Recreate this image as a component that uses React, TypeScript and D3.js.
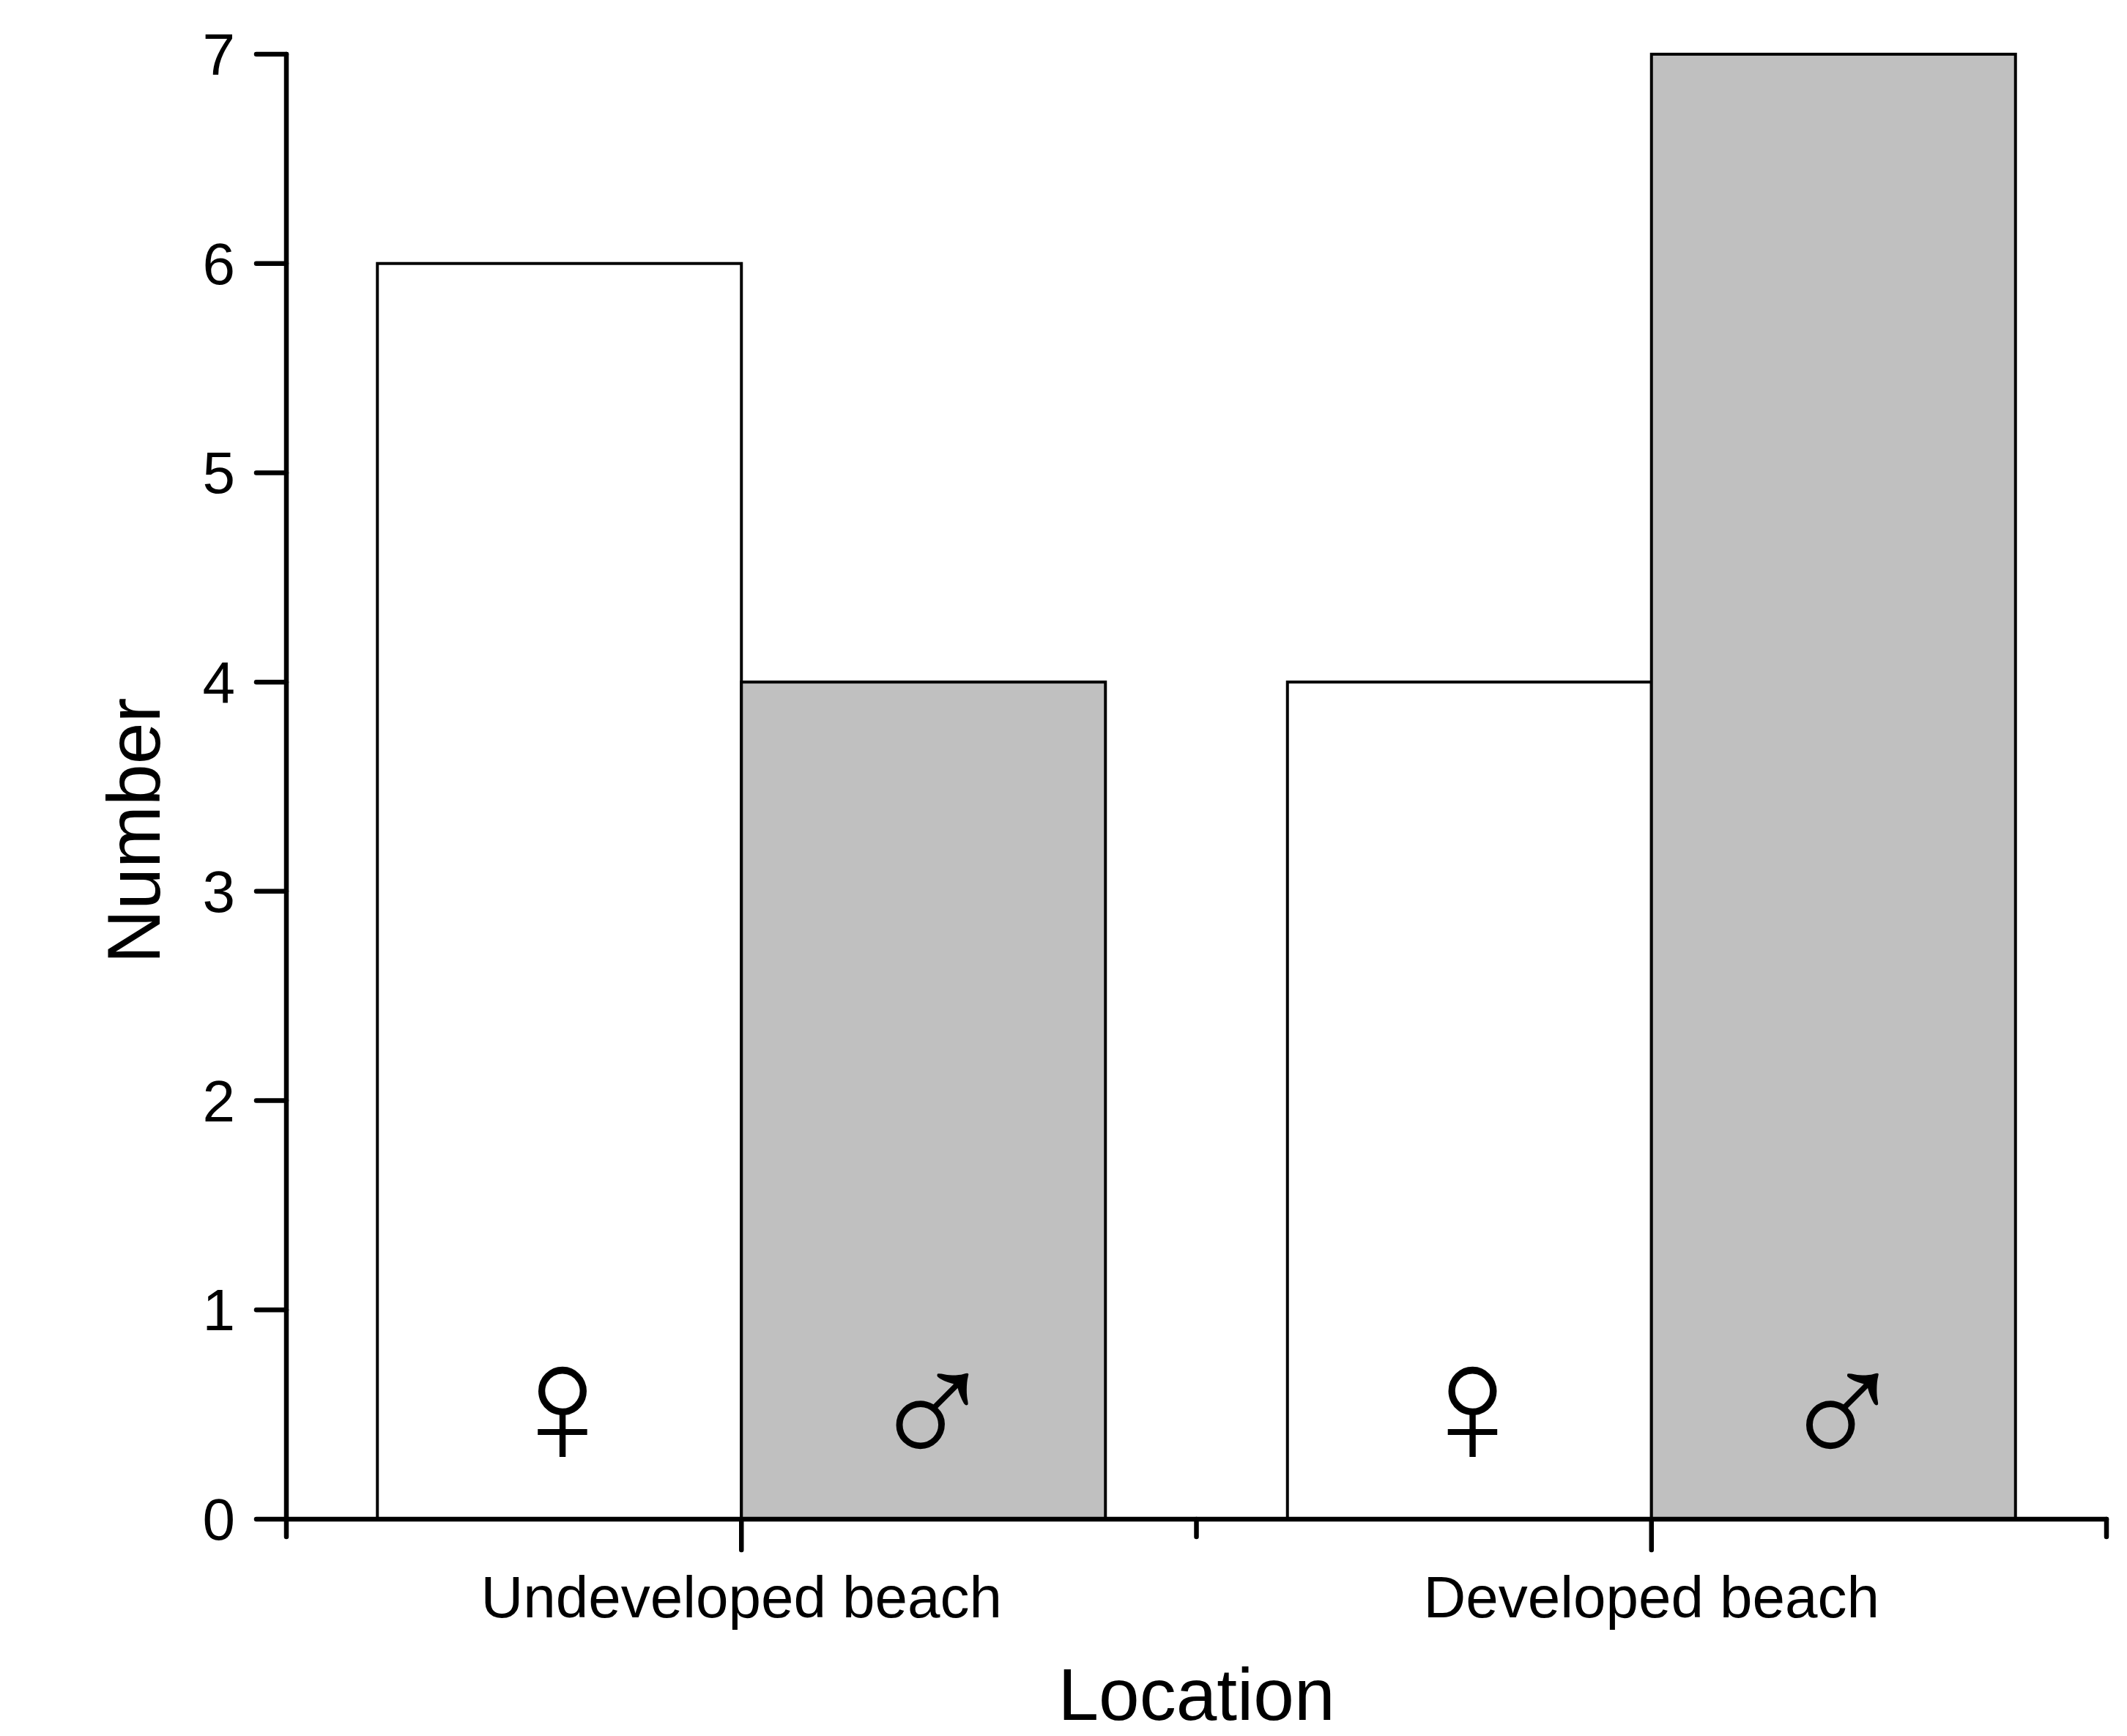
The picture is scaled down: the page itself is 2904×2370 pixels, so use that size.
import React from "react";
import {range, scaleBand, scaleLinear} from "d3";

// chart data
const locations = ["Undeveloped beach", "Developed beach"];
const sexes = ["female", "male"];
const sexSymbols = ["\u2640", "\u2642"];
const femaleCounts = [6, 4];
const maleCounts = [4, 7];
const yTicks = [0, 1, 2, 3, 4, 5, 6, 7];

const W = 2904;
const H = 2370;
const margin = {top: 74, right: 28, bottom: 296, left: 391};
const fillColors = ["#ffffff", "#c0c0c0"];
const font = "'Liberation Sans', Arial, sans-serif";

function App() {
    const x0 = margin.left;
    const x1 = W - margin.right;
    const y0 = H - margin.bottom;
    const yTop = margin.top;

    const xScale = scaleBand()
        .domain(locations)
        .range([x0, x1])
        .paddingInner(0.2)
        .paddingOuter(0.1);

    const sexScale = scaleBand()
        .domain(sexes)
        .range([0, xScale.bandwidth()])
        .padding(0);

    const yScale = scaleLinear().domain([0, 7]).range([y0, yTop]);

    const rows = locations.map((loc, i) => ({loc, values: [femaleCounts[i], maleCounts[i]]}));

    // category borders + centers on the x axis
    const step = xScale.step();
    const borderTicks = range(locations.length + 1).map(i => x0 + i * step);
    const centerTicks = locations.map(l => xScale(l) + xScale.bandwidth() / 2);

    return (
        <svg width={W} height={H} style={{position: "absolute", left: 0, top: 0, background: "#fff"}}
             fontFamily={font}>
            {/* bars */}
            {rows.map(r => (
                <g key={r.loc} transform={`translate(${xScale(r.loc)},0)`}>
                    {r.values.map((v, j) => (
                        <rect key={sexes[j]}
                              x={sexScale(sexes[j])}
                              y={yScale(v)}
                              width={sexScale.bandwidth()}
                              height={y0 - yScale(v)}
                              fill={fillColors[j]}
                              stroke="#000"
                              strokeWidth={4}/>
                    ))}
                    {sexSymbols.map((s, j) => (
                        <text key={s}
                              x={sexScale(sexes[j]) + sexScale.bandwidth() / 2 + (j ? 12 : 4)}
                              y={yScale(0.55) + (j ? 9 : 0)}
                              textAnchor="middle"
                              dominantBaseline="central"
                              fontSize={235}>
                            {s}
                        </text>
                    ))}
                </g>
            ))}

            {/* y axis */}
            <g stroke="#000" strokeWidth={6.5} strokeLinecap="round">
                <line x1={x0} x2={x0} y1={yTop} y2={y0}/>
                {yTicks.map(t => (
                    <line key={t} x1={x0 - 41} x2={x0} y1={yScale(t)} y2={yScale(t)}/>
                ))}
            </g>
            {yTicks.map(t => (
                <text key={t} x={x0 - 70} y={yScale(t)} textAnchor="end" dy="0.35em" fontSize={80}>
                    {t}
                </text>
            ))}

            {/* x axis */}
            <g stroke="#000" strokeWidth={6.5} strokeLinecap="round">
                <line x1={x0} x2={x1} y1={y0} y2={y0}/>
                {borderTicks.map(t => (
                    <line key={t} x1={t} x2={t} y1={y0} y2={y0 + 24}/>
                ))}
                {centerTicks.map(t => (
                    <line key={t} x1={t} x2={t} y1={y0} y2={y0 + 42}/>
                ))}
            </g>
            {locations.map(l => (
                <text key={l} x={xScale(l) + xScale.bandwidth() / 2} y={y0 + 134}
                      textAnchor="middle" fontSize={80}>
                    {l}
                </text>
            ))}

            {/* axis titles */}
            <text x={(x0 + x1) / 2} y={H - 22} textAnchor="middle" fontSize={100}>Location</text>
            <text transform={`translate(218, ${yScale(3.5) + 60}) rotate(-90)`} textAnchor="middle" fontSize={102}>
                Number
            </text>
        </svg>
    );
}

export default App;
